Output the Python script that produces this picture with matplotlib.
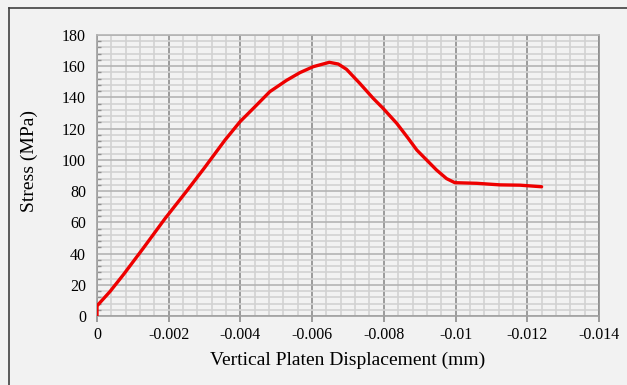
import matplotlib
matplotlib.use('Agg')
import matplotlib.pyplot as plt
from matplotlib.lines import Line2D
from matplotlib.ticker import MultipleLocator

# stress-displacement curve, displacement in mm (compression negative)
disp = [0.0, 0.0, -0.00004, -0.00036, -0.00073, -0.00129, -0.0019, -0.0025,
        -0.0030, -0.00357, -0.00399, -0.00436, -0.00482, -0.00529, -0.00566,
        -0.00603, -0.00648, -0.00673, -0.00696, -0.00733, -0.0077, -0.00798,
        -0.00836, -0.00868, -0.00892, -0.00947, -0.00975, -0.00998, -0.01059,
        -0.01124, -0.0118, -0.0124]
stress = [0.0, 6.4, 7.5, 15.6, 26.3, 43.4, 62.5, 80.0,
          95.0, 112.7, 124.5, 133.0, 143.7, 151.0, 155.9,
          159.7, 162.5, 161.4, 158.0, 149.0, 139.5, 133.0,
          123.4, 113.8, 106.3, 93.5, 88.0, 85.4, 85.0,
          84.0, 83.8, 82.8]

xticks = [0, -0.002, -0.004, -0.006, -0.008, -0.01, -0.012, -0.014]
xtick_labels = ['0', '-0.002', '-0.004', '-0.006', '-0.008', '-0.01', '-0.012', '-0.014']
yticks = [0, 20, 40, 60, 80, 100, 120, 140, 160, 180]

bg = '#f2f2f2'
plt.rcParams['font.family'] = ['Liberation Serif', 'DejaVu Serif']

fig = plt.figure(figsize=(6.27, 3.85), dpi=100, facecolor=bg)
ax = fig.add_axes([0.1547, 0.1792, 0.8006, 0.7299], facecolor=bg)

ax.set_xlim(0, -0.014)
ax.set_ylim(0, 180)
ax.set_xticks(xticks)
ax.set_xticklabels(xtick_labels)
ax.set_yticks(yticks)
ax.xaxis.set_minor_locator(MultipleLocator(0.0004))
ax.yaxis.set_minor_locator(MultipleLocator(4))

ax.grid(which='minor', axis='both', color='#d2d2d2', linewidth=1.2)
ax.grid(which='major', axis='y', color='#b4b4b4', linewidth=1.2)
ax.grid(which='major', axis='x', color='#8c8c8c', linewidth=1.2)
ax.set_axisbelow(True)

for side in ['left', 'bottom']:
    ax.spines[side].set_color('#a0a0a0')
    ax.spines[side].set_linewidth(1.2)
ax.spines['right'].set_color('#8c8c8c')
ax.spines['right'].set_linewidth(1.2)
ax.spines['top'].set_color('#b4b4b4')
ax.spines['top'].set_linewidth(1.2)

ax.tick_params(axis='x', which='major', direction='out', length=4, color='#8c8c8c',
               width=1.2, labelsize=11.5, pad=4)
ax.tick_params(axis='x', which='minor', length=0)
ax.tick_params(axis='y', which='major', length=0, labelsize=11.5, pad=8)
ax.tick_params(axis='y', which='minor', direction='in', length=3, color='#909090', width=1)

ax.plot(disp, stress, color='#ee0000', linewidth=2.4, solid_capstyle='round',
        solid_joinstyle='round', zorder=3)

ax.set_xlabel('Vertical Platen Displacement (mm)', fontsize=14, labelpad=6)
ax.set_ylabel('Stress (MPa)', fontsize=14)
ax.yaxis.set_label_coords(-0.117, 0.55)

# frame drawn on the top and left edges of the figure
fig.add_artist(Line2D([9 / 627, 9 / 627], [0, 1 - 8 / 385], transform=fig.transFigure,
                      color='#404040', linewidth=1.2))
fig.add_artist(Line2D([9 / 627, 1], [1 - 8 / 385, 1 - 8 / 385], transform=fig.transFigure,
                      color='#404040', linewidth=1.2))

fig.savefig('out.png', dpi=100, facecolor=bg)
